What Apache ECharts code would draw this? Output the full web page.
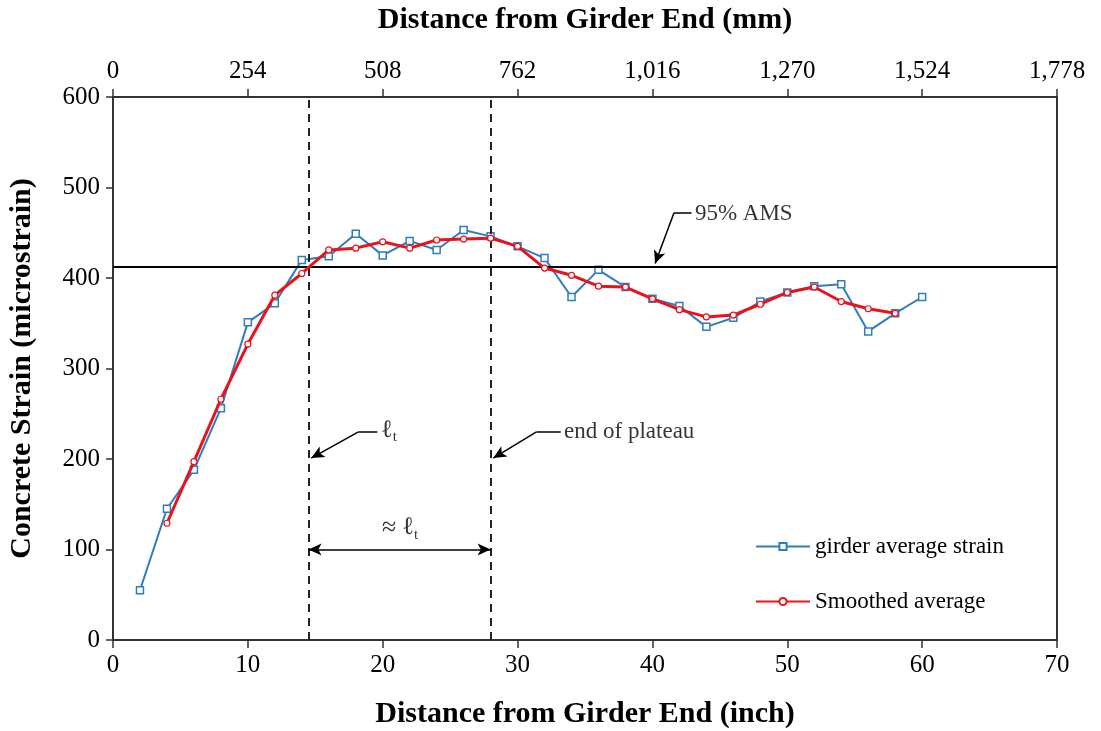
<!DOCTYPE html>
<html>
<head>
<meta charset="utf-8">
<script src="https://cdn.jsdelivr.net/npm/echarts@6/dist/echarts.min.js"></script>
<style>html,body{margin:0;padding:0;background:#fff;}#chart{width:1101px;height:731px;}</style>
</head>
<body>
<div id="chart"></div>
<script>
// ---- data ----
const girderX = [2,4,6,8,10,12,14,16,18,20,22,24,26,28,30,32,34,36,38,40,42,44,46,48,50,52,54,56,58,60];
const girderY = [55,145,188,256,351,372,420,424,449,425,441,431,453,446,435,422,379,409,390,377,369,346,356,374,384,391,393,341,361,379];
const smoothX = [4,6,8,10,12,14,16,18,20,22,24,26,28,30,32,34,36,38,40,42,44,46,48,50,52,54,56,58];
const smoothY = [129,197,266,327,381,405,431,433,440,433,442,443,444,435,411,403,391,390,377,365,357,359,371,384,390,374,366,361];
const amsLevel = 412;            // 95% AMS
const transferLength = 14.5;     // l_t (inch)
const plateauEnd = 28;           // end of plateau (inch)
const inchTicks = [0,10,20,30,40,50,60,70];
const mmTicks = [0,254,508,762,1016,1270,1524,1778];
const strainTicks = [0,100,200,300,400,500,600];

const FONT = '"Liberation Serif", "DejaVu Serif", serif';
const BLUE = '#2F7DC0';
const RED = '#E8131B';
const INK = '#000';

const chart = echarts.init(document.getElementById('chart'));
const pair = (xs, ys) => xs.map((x, i) => [x, ys[i]]);

const arrowSeg = (a, b, both) => [
  { coord: a, symbol: both ? 'arrow' : 'none' },
  { coord: b, symbol: 'arrow' }
];
const plainSeg = (a, b) => [
  { coord: a, symbol: 'none' },
  { coord: b, symbol: 'none' }
];
const subRich = {
  a: { fontFamily: FONT, fontSize: 25, color: INK },
  b: { fontFamily: FONT, fontSize: 15, color: INK, padding: [14, 0, 0, 0] }
};

const option = {
  animation: false,
  backgroundColor: '#fff',
  grid: { left: 113, right: 44, top: 97, bottom: 91, outerBoundsMode: 'none', containLabel: false,
          show: true, borderColor: '#333', borderWidth: 2 },
  legend: {
    data: ['girder average strain', 'Smoothed average'],
    orient: 'vertical',
    left: 750, top: 530,
    itemWidth: 54, itemHeight: 9, itemGap: 32,
    textStyle: { fontFamily: FONT, fontSize: 23, color: INK }
  },
  xAxis: [
    {
      type: 'value', position: 'bottom', min: inchTicks[0], max: inchTicks[inchTicks.length - 1], interval: 10,
      name: 'Distance from Girder End (inch)', nameLocation: 'middle', nameGap: 59,
      nameTextStyle: { fontFamily: FONT, fontSize: 30, fontWeight: 'bold', color: INK },
      axisLine: { show: true, lineStyle: { color: '#333', width: 2 } },
      axisTick: { show: true, inside: false, length: 8, lineStyle: { color: '#333', width: 1.5 } },
      axisLabel: { fontFamily: FONT, fontSize: 25, color: INK, margin: 13 },
      splitLine: { show: false }
    },
    {
      type: 'value', position: 'top', min: mmTicks[0], max: mmTicks[mmTicks.length - 1], interval: 254,
      name: 'Distance from Girder End (mm)', nameLocation: 'middle', nameGap: 62,
      nameTextStyle: { fontFamily: FONT, fontSize: 30, fontWeight: 'bold', color: INK },
      axisLine: { show: true, lineStyle: { color: '#333', width: 2 } },
      axisTick: { show: true, inside: false, length: 8, lineStyle: { color: '#333', width: 1.5 } },
      axisLabel: { fontFamily: FONT, fontSize: 25, color: INK, margin: 13,
        formatter: v => Number(v).toLocaleString('en-US') },
      splitLine: { show: false }
    }
  ],
  yAxis: [
    {
      type: 'value', min: strainTicks[0], max: strainTicks[strainTicks.length - 1], interval: 100,
      name: 'Concrete Strain (microstrain)', nameLocation: 'middle', nameGap: 76,
      nameTextStyle: { fontFamily: FONT, fontSize: 30, fontWeight: 'bold', color: INK },
      axisLine: { show: true, lineStyle: { color: '#333', width: 2 } },
      axisTick: { show: true, inside: false, length: 7, lineStyle: { color: '#333', width: 1.5 } },
      axisLabel: { fontFamily: FONT, fontSize: 25, color: INK, margin: 13 },
      splitLine: { show: false }
    }
  ],
  series: [
    {
      name: 'annotations', type: 'line', data: [], z: 1, silent: true,
      markLine: {
        silent: true, animation: false,
        symbol: ['none', 'none'],
        symbolSize: [9, 13],
        label: { show: false },
        lineStyle: { color: INK, width: 1.5, type: 'solid' },
        data: [
          { yAxis: amsLevel, lineStyle: { color: INK, width: 2.2, type: 'solid' } },
          { xAxis: transferLength, lineStyle: { color: '#222', width: 2, type: [8, 6] } },
          { xAxis: plateauEnd, lineStyle: { color: '#222', width: 2, type: [8, 6] } },
          plainSeg([42.9, 472], [41.6, 472]),
          arrowSeg([41.6, 472], [40.2, 416]),
          plainSeg([19.6, 230], [18.2, 230]),
          arrowSeg([18.2, 230], [14.7, 201]),
          plainSeg([33.2, 230], [31.4, 230]),
          arrowSeg([31.4, 230], [28.2, 201]),
          arrowSeg([transferLength, 100], [plateauEnd, 100], true)
        ]
      }
    },
    {
      name: 'labels', type: 'scatter', symbolSize: 0, z: 2, silent: true,
      label: { show: true, position: 'right', distance: 2, fontFamily: FONT, fontSize: 23, color: INK },
      data: [
        { value: [43.0, 471], label: { formatter: '95% AMS' } },
        { value: [33.3, 230], label: { formatter: 'end of plateau' } },
        { value: [19.7, 232], label: { formatter: '{a|ℓ}{b|t}', rich: subRich } },
        { value: [19.8, 124], label: { formatter: '{c|≈} {a|ℓ}{b|t}',
            rich: Object.assign({ c: { fontFamily: FONT, fontSize: 26, color: INK } }, subRich) } }
      ]
    },
    {
      name: 'girder average strain', type: 'line', z: 4,
      data: pair(girderX, girderY),
      symbol: 'rect', symbolSize: 7, showSymbol: true,
      itemStyle: { color: '#fff', borderColor: BLUE, borderWidth: 1.5 },
      lineStyle: { color: BLUE, width: 2 }
    },
    {
      name: 'Smoothed average', type: 'line', z: 5,
      data: pair(smoothX, smoothY),
      symbol: 'circle', symbolSize: 6, showSymbol: true,
      itemStyle: { color: '#fff', borderColor: RED, borderWidth: 1.2 },
      lineStyle: { color: RED, width: 3 }
    }
  ]
};
chart.setOption(option);
</script>
</body>
</html>
